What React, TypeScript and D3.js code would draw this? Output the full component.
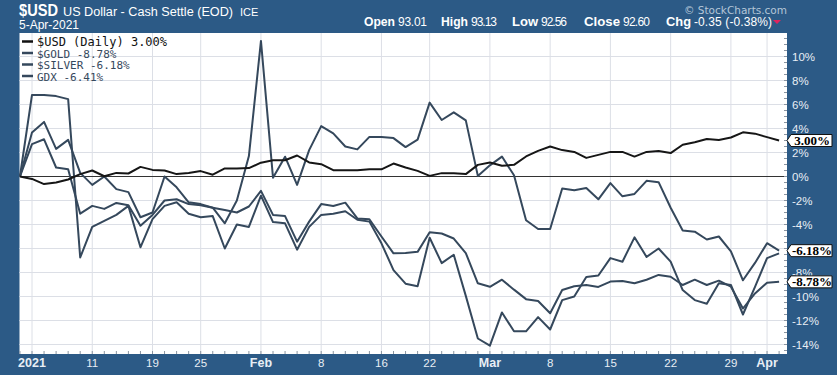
import React from "react";
import * as d3 from "d3";

const dates = [
  "2020-12-31",
  "2021-01-04","2021-01-05","2021-01-06","2021-01-07","2021-01-08","2021-01-11","2021-01-12","2021-01-13","2021-01-14","2021-01-15",
  "2021-01-19","2021-01-20","2021-01-21","2021-01-22","2021-01-25","2021-01-26","2021-01-27","2021-01-28","2021-01-29",
  "2021-02-01","2021-02-02","2021-02-03","2021-02-04","2021-02-05","2021-02-08","2021-02-09","2021-02-10","2021-02-11","2021-02-12",
  "2021-02-16","2021-02-17","2021-02-18","2021-02-19","2021-02-22","2021-02-23","2021-02-24","2021-02-25","2021-02-26",
  "2021-03-01","2021-03-02","2021-03-03","2021-03-04","2021-03-05","2021-03-08","2021-03-09","2021-03-10","2021-03-11","2021-03-12",
  "2021-03-15","2021-03-16","2021-03-17","2021-03-18","2021-03-19","2021-03-22","2021-03-23","2021-03-24","2021-03-25","2021-03-26",
  "2021-03-29","2021-03-30","2021-03-31","2021-04-01","2021-04-05",
];

const usd = [0,-0.2,-0.63,-0.5,-0.25,0.2,0.5,0.02,0.3,0.25,
  0.8,0.55,0.5,0.2,0.3,0.45,0.15,0.67,0.67,0.7,
  1.15,1.35,1.35,1.75,1.17,1.03,0.53,0.53,0.53,0.6,
  0.6,1.08,0.75,0.47,0.05,0.28,0.28,0.2,0.97,1.17,
  0.9,0.97,1.67,2.14,2.5,2.2,2.05,1.55,1.8,2.05,
  2.05,1.66,2.05,2.12,1.95,2.65,2.85,3.12,3.05,3.25,
  3.68,3.57,3.28,3.0];

const gold = [0,2.7,3.1,0.75,0.6,-3.1,-2.45,-2.7,-2.2,-2.4,
  -4.1,-3.2,-2.0,-1.9,-2.3,-2.4,-2.6,-2.8,-3.0,-2.5,
  -1.2,-3.2,-3.3,-5.43,-3.76,-2.3,-2.46,-2.18,-3.49,-3.57,
  -5.0,-6.4,-6.38,-6.28,-4.64,-4.75,-5.17,-6.38,-8.9,-9.19,
  -8.6,-9.43,-10.22,-10.37,-11.4,-9.46,-9.15,-9.05,-9.2,-8.76,
  -8.7,-8.9,-8.6,-8.2,-8.35,-9.04,-8.6,-9.04,-8.68,-9.18,
  -11.0,-9.74,-8.85,-8.78];

const silver = [0,3.67,4.55,2.3,3.05,0.3,-0.7,0,-1.05,-1.3,
  -3.4,-3.0,0,-0.9,-2.15,-2.3,-2.6,-3.9,-2.0,1.7,
  11.3,-0.1,1.65,-0.7,2.2,4.2,3.6,2.5,2.26,3.3,
  3.3,3.2,2.45,3.07,6.16,4.71,5.35,4.68,0.05,0.93,
  1.66,0.1,-3.65,-4.37,-4.37,-1.0,-1.15,-0.95,-1.9,-0.55,
  -1.65,-1.45,-0.36,-0.47,-2.6,-4.5,-4.6,-5.25,-5.0,-6.23,
  -8.65,-7.2,-5.56,-6.18];

const gdx = [0,6.8,6.8,6.7,6.45,-6.75,-4.2,-3.7,-3.2,-2.45,
  -5.9,-3.55,-2.45,-2.15,-3.1,-3.4,-3.3,-6.0,-4.0,-4.2,
  -1.6,-3.8,-3.9,-6.1,-4.2,-3.2,-3.1,-2.9,-3.6,-3.76,
  -5.57,-7.8,-8.93,-9.14,-5.1,-7.22,-6.52,-9.95,-13.5,-14.1,
  -11.33,-12.9,-12.9,-11.72,-12.75,-10.3,-10.0,-8.38,-8.25,-6.8,
  -7.1,-5.07,-6.7,-6.0,-7.1,-9.46,-10.3,-10.6,-8.9,-9.04,
  -11.5,-9.2,-6.8,-6.41];

const xTickDates = ["2021-01-04","2021-01-11","2021-01-19","2021-01-25","2021-02-01","2021-02-08","2021-02-16","2021-02-22","2021-03-01","2021-03-08","2021-03-15","2021-03-22","2021-03-29","2021-04-01"];
const xTickLabels = ["2021","11","19","25","Feb","8","16","22","Mar","8","15","22","29","Apr"];
const xTickBold = [true,false,false,false,true,false,false,false,true,false,false,false,false,true];

const yGridValues = [10,8,6,4,2,0,-2,-4,-6,-8,-10,-12,-14];
// "-6%" is entirely hidden behind the -6.18% tag in the reference
const yLabelValues = [10,8,6,4,2,0,-2,-4,-8,-10,-12,-14];

const legendLabels = ["$USD (Daily) 3.00%","$GOLD -8.78%","$SILVER -6.18%","GDX -6.41%"];
const tagValues = [3.0, -6.18, -8.78];
const tagLabels = ["3.00%","-6.18%","-8.78%"];

const quoteLabels = ["Open","High","Low","Close","Chg"];
const quoteValues = ["93.01","93.13","92.56","92.60","-0.35 (-0.38%)"];

const W = 837, H = 375;
const BG = "#2c5a86";
const PL = 19.5, PR = 787, PT = 33, PB = 354;

export default function App() {
  const x = d3.scaleLinear().domain([0, 63]).range([19.95, 779.1]);
  const y = d3.scaleLinear().domain([-14, 10]).range([344.5, 56.5]);
  const idx = (d: string) => dates.indexOf(d);
  const line = d3.line<number>().x((_, i) => x(i)).y((v) => y(v));
  const series = [
    { vals: gdx, color: "#35485c" },
    { vals: gold, color: "#35485c" },
    { vals: silver, color: "#35485c" },
    { vals: usd, color: "#161616" },
  ];
  const legendColors = ["#111", "#35485c", "#35485c", "#35485c"];
  const minorY = d3.range(-14.5, 12, 0.5);
  const sans = "'Liberation Sans', Arial, sans-serif";
  const quoteLabelX = [364, 441, 512, 584, 666];
  const quoteLabelW = [31, 27, 26, 36, 25];
  const quoteValueX = [398, 471, 541, 623, 694];
  const quoteValueW = [29, 26, 26, 27, 78];

  return (
    <svg width={W} height={H} style={{ position: "absolute", left: 0, top: 0, display: "block" }}>
      <rect x={0} y={0} width={W} height={H} fill={BG} />
      {/* header */}
      <text x={19} y={15.5} fill="#fff" fontFamily={sans} fontSize={16.5} fontWeight="bold" textLength={39} lengthAdjust="spacingAndGlyphs">$USD</text>
      <text x={63} y={15.5} fill="#fff" fontFamily={sans} fontSize={12.3} textLength={170} lengthAdjust="spacingAndGlyphs">US Dollar - Cash Settle (EOD)</text>
      <text x={240} y={15.5} fill="#fff" fontFamily={sans} fontSize={11}>ICE</text>
      <text x={19} y={29} fill="#fff" fontFamily={sans} fontSize={12}>5-Apr-2021</text>
      <text x={787} y={13.5} fill="#b4c6d8" fontFamily="'DejaVu Sans', Verdana, sans-serif" fontSize={10.5} textAnchor="end">© StockCharts.com</text>
      {quoteLabels.map((l, k) => (
        <g key={"q" + k}>
          <text x={quoteLabelX[k]} y={26} fill="#fff" fontFamily={sans} fontSize={13} fontWeight="bold"
            textLength={quoteLabelW[k]} lengthAdjust="spacingAndGlyphs">{l}</text>
          <text x={quoteValueX[k]} y={26} fill="#fff" fontFamily={sans} fontSize={12}
            textLength={quoteValueW[k]} lengthAdjust="spacing">{quoteValues[k]}</text>
        </g>
      ))}
      <path d="M773,20 L781,20 L777,24 Z" fill="#e0245e" />

      {/* plot area */}
      <rect x={PL} y={PT} width={PR - PL} height={PB - PT} fill="#fff" />
      {yGridValues.map((v) => (
        <line key={"gy" + v} x1={PL} x2={PR} y1={y(v)} y2={y(v)} stroke="#dcdfe6" strokeWidth={1} />
      ))}
      {xTickDates.map((d) => (
        <line key={"gx" + d} x1={x(idx(d))} x2={x(idx(d))} y1={PT} y2={PB} stroke="#dcdfe6" strokeWidth={1} />
      ))}
      <line x1={PL} x2={PR} y1={y(0)} y2={y(0)} stroke="#333" strokeWidth={1} />
      {minorY.map((v) => (
        <line key={"my" + v} x1={PR - 3} x2={PR} y1={y(v)} y2={y(v)} stroke="#8a94a0" strokeWidth={1} />
      ))}
      {dates.map((d, i) => (
        <line key={"mx" + d} x1={x(i)} x2={x(i)} y1={PB - 3} y2={PB} stroke="#8a94a0" strokeWidth={1} />
      ))}

      {series.map((s, k) => (
        <path key={"s" + k} d={line(s.vals) || ""} fill="none" stroke={s.color} strokeWidth={2} strokeLinejoin="round" />
      ))}

      {/* legend */}
      {legendLabels.map((l, k) => (
        <g key={"lg" + k}>
          <line x1={22} x2={33} y1={41.5 + k * 11.5} y2={41.5 + k * 11.5} stroke={legendColors[k]} strokeWidth={2.5} />
          <text x={37} y={46 + k * 11.5} fontFamily="'DejaVu Sans Mono', monospace" fontSize={k === 0 ? 12 : 11} fill={legendColors[k]}>{l}</text>
        </g>
      ))}

      {/* y axis labels */}
      {yLabelValues.map((v) => (
        <text key={"yl" + v} x={792} y={y(v) + 4.5} fill="#e8eef5" fontFamily={sans} fontSize={11.5}>{v}%</text>
      ))}
      {/* tags */}
      {tagValues.map((v, k) => {
        const cy = y(v);
        return (
          <g key={"tag" + k}>
            <path d={`M787,${cy} L791,${cy - 6} L832,${cy - 6} L832,${cy + 6} L791,${cy + 6} Z`} fill="#fff" stroke="#111" strokeWidth={1} />
            <text x={812} y={cy + 4.5} textAnchor="middle" fontFamily="'Liberation Serif', 'DejaVu Serif', serif" fontWeight="bold" fontSize={13} fill="#000">{tagLabels[k]}</text>
          </g>
        );
      })}

      {/* x axis labels */}
      {xTickDates.map((d, k) => (
        <text key={"xl" + d} x={x(idx(d))} y={367} textAnchor="middle" fill="#e8eef5" fontFamily={sans} fontSize={xTickBold[k] ? 12.5 : 11.5} fontWeight={xTickBold[k] ? "bold" : "normal"}>{xTickLabels[k]}</text>
      ))}
    </svg>
  );
}
